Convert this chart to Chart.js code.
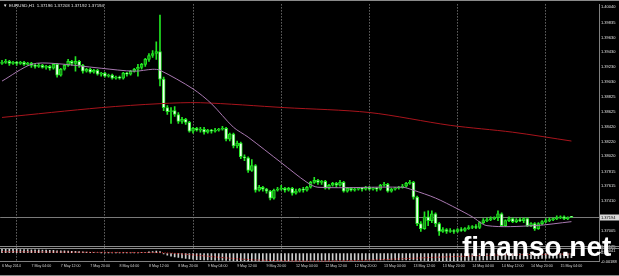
<!DOCTYPE html>
<html>
<head>
<meta charset="utf-8">
<title>EURUSD,H1</title>
<script src="https://cdn.jsdelivr.net/npm/chart.js@4.4.1/dist/chart.umd.min.js"></script>
<style>
    html, body { margin: 0; padding: 0; background: #000; }
    canvas { display: block; }
</style>
</head>
<body>
<canvas id="eurusdChart" width="619" height="276"></canvas>
<script>
const symbol = 'EURUSD,H1';
const firstTickText = '6 May 2014';
const sessionDays = ['6 May', '7 May', '8 May', '9 May', '12 May', '13 May', '14 May', '15 May'];
const firstHour = 20;
const lastHour = 7;
const emptySlots = 7;

const opens = [
    1.39280, 1.39294, 1.39307, 1.39280, 1.39294, 1.39280, 1.39294, 1.39267, 1.39280, 1.39254,
    1.39240, 1.39254, 1.39227, 1.39240, 1.39214, 1.39267, 1.39120, 1.39200, 1.39254, 1.39307,
    1.39280, 1.39307, 1.39254, 1.39174, 1.39200, 1.39160, 1.39187, 1.39134, 1.39147, 1.39107,
    1.39120, 1.39080, 1.39094, 1.39080, 1.39147, 1.39134, 1.39174, 1.39200, 1.39227, 1.39267,
    1.39334, 1.39387, 1.39414, 1.39440, 1.39067, 1.38680, 1.38627, 1.38640, 1.38587, 1.38494,
    1.38520, 1.38480, 1.38360, 1.38400, 1.38374, 1.38387, 1.38347, 1.38374, 1.38360, 1.38374,
    1.38387, 1.38400, 1.38254, 1.38320, 1.38160, 1.38200, 1.38014, 1.38000, 1.37827, 1.37894,
    1.37560, 1.37600, 1.37574, 1.37547, 1.37454, 1.37560, 1.37574, 1.37587, 1.37560, 1.37587,
    1.37520, 1.37547, 1.37574, 1.37560, 1.37600, 1.37667, 1.37694, 1.37667, 1.37680, 1.37587,
    1.37627, 1.37654, 1.37627, 1.37667, 1.37547, 1.37587, 1.37560, 1.37574, 1.37587, 1.37574,
    1.37600, 1.37574, 1.37587, 1.37574, 1.37627, 1.37640, 1.37547, 1.37574, 1.37587, 1.37600,
    1.37614, 1.37654, 1.37667, 1.37467, 1.37107, 1.37040, 1.37200, 1.37147, 1.37240, 1.37107,
    1.37000, 1.37027, 1.37000, 1.37014, 1.37000, 1.37027, 1.37014, 1.37040, 1.37054, 1.37067,
    1.37054, 1.37120, 1.37147, 1.37160, 1.37174, 1.37187, 1.37240, 1.37080, 1.37147, 1.37174,
    1.37134, 1.37160, 1.37147, 1.37174, 1.37080, 1.37107, 1.37040, 1.37107, 1.37134, 1.37147,
    1.37160, 1.37174, 1.37187, 1.37200, 1.37174, 1.37196
];
const highs = [
    1.39320, 1.39334, 1.39320, 1.39307, 1.39307, 1.39307, 1.39307, 1.39294, 1.39294, 1.39267,
    1.39280, 1.39267, 1.39254, 1.39254, 1.39280, 1.39280, 1.39214, 1.39267, 1.39334, 1.39320,
    1.39374, 1.39320, 1.39267, 1.39214, 1.39214, 1.39200, 1.39200, 1.39160, 1.39160, 1.39134,
    1.39134, 1.39107, 1.39107, 1.39160, 1.39160, 1.39187, 1.39214, 1.39267, 1.39280, 1.39347,
    1.39414, 1.39454, 1.39574, 1.39934, 1.39094, 1.38707, 1.38680, 1.38694, 1.38614, 1.38547,
    1.38534, 1.38494, 1.38414, 1.38414, 1.38414, 1.38414, 1.38387, 1.38387, 1.38400, 1.38400,
    1.38427, 1.38414, 1.38334, 1.38334, 1.38227, 1.38214, 1.38040, 1.38014, 1.37974, 1.37907,
    1.37627, 1.37614, 1.37587, 1.37560, 1.37574, 1.37600, 1.37627, 1.37600, 1.37600, 1.37600,
    1.37574, 1.37587, 1.37600, 1.37614, 1.37680, 1.37734, 1.37707, 1.37694, 1.37694, 1.37640,
    1.37667, 1.37667, 1.37694, 1.37680, 1.37600, 1.37600, 1.37587, 1.37600, 1.37600, 1.37614,
    1.37614, 1.37600, 1.37600, 1.37640, 1.37667, 1.37654, 1.37587, 1.37600, 1.37614, 1.37640,
    1.37667, 1.37694, 1.37680, 1.37480, 1.37134, 1.37267, 1.37280, 1.37280, 1.37254, 1.37120,
    1.37054, 1.37040, 1.37040, 1.37027, 1.37040, 1.37054, 1.37054, 1.37080, 1.37080, 1.37094,
    1.37134, 1.37174, 1.37187, 1.37200, 1.37200, 1.37280, 1.37254, 1.37160, 1.37200, 1.37187,
    1.37174, 1.37187, 1.37187, 1.37187, 1.37120, 1.37120, 1.37120, 1.37147, 1.37174, 1.37187,
    1.37187, 1.37214, 1.37214, 1.37214, 1.37200, 1.37203
];
const lows = [
    1.39267, 1.39280, 1.39254, 1.39267, 1.39254, 1.39267, 1.39254, 1.39254, 1.39227, 1.39214,
    1.39227, 1.39214, 1.39200, 1.39187, 1.39200, 1.39094, 1.39107, 1.39187, 1.39240, 1.39254,
    1.39174, 1.39227, 1.39147, 1.39160, 1.39147, 1.39147, 1.39120, 1.39107, 1.39094, 1.39094,
    1.39067, 1.39067, 1.39067, 1.39067, 1.39107, 1.39120, 1.39160, 1.39107, 1.39200, 1.39240,
    1.39307, 1.39360, 1.39334, 1.38974, 1.38640, 1.38587, 1.38467, 1.38560, 1.38467, 1.38467,
    1.38454, 1.38347, 1.38334, 1.38360, 1.38347, 1.38320, 1.38334, 1.38334, 1.38347, 1.38360,
    1.38374, 1.38227, 1.38227, 1.38134, 1.38134, 1.37987, 1.37960, 1.37800, 1.37814, 1.37534,
    1.37547, 1.37547, 1.37520, 1.37427, 1.37440, 1.37547, 1.37560, 1.37534, 1.37547, 1.37494,
    1.37507, 1.37534, 1.37534, 1.37547, 1.37587, 1.37654, 1.37640, 1.37640, 1.37574, 1.37574,
    1.37614, 1.37600, 1.37614, 1.37534, 1.37534, 1.37547, 1.37547, 1.37560, 1.37547, 1.37560,
    1.37560, 1.37560, 1.37547, 1.37560, 1.37614, 1.37534, 1.37534, 1.37560, 1.37574, 1.37587,
    1.37600, 1.37640, 1.37440, 1.37080, 1.37000, 1.37027, 1.37080, 1.37120, 1.37067, 1.36947,
    1.36987, 1.36974, 1.36987, 1.36974, 1.36987, 1.37000, 1.37000, 1.37027, 1.37040, 1.37040,
    1.37040, 1.37107, 1.37134, 1.37147, 1.37160, 1.37147, 1.37067, 1.37067, 1.37134, 1.37120,
    1.37120, 1.37134, 1.37120, 1.37067, 1.37067, 1.37014, 1.37027, 1.37094, 1.37120, 1.37134,
    1.37147, 1.37160, 1.37174, 1.37160, 1.37160, 1.37192
];
const closes = [
    1.39294, 1.39307, 1.39280, 1.39294, 1.39280, 1.39294, 1.39267, 1.39280, 1.39254, 1.39240,
    1.39254, 1.39227, 1.39240, 1.39214, 1.39267, 1.39120, 1.39200, 1.39254, 1.39307, 1.39280,
    1.39307, 1.39254, 1.39174, 1.39200, 1.39160, 1.39187, 1.39134, 1.39147, 1.39107, 1.39120,
    1.39080, 1.39094, 1.39080, 1.39147, 1.39134, 1.39174, 1.39200, 1.39227, 1.39267, 1.39334,
    1.39387, 1.39414, 1.39440, 1.39067, 1.38680, 1.38627, 1.38640, 1.38587, 1.38494, 1.38520,
    1.38480, 1.38360, 1.38400, 1.38374, 1.38387, 1.38347, 1.38374, 1.38360, 1.38374, 1.38387,
    1.38400, 1.38254, 1.38320, 1.38160, 1.38200, 1.38014, 1.38000, 1.37827, 1.37894, 1.37560,
    1.37600, 1.37574, 1.37547, 1.37454, 1.37560, 1.37574, 1.37587, 1.37560, 1.37587, 1.37520,
    1.37547, 1.37574, 1.37560, 1.37600, 1.37667, 1.37694, 1.37667, 1.37680, 1.37587, 1.37627,
    1.37654, 1.37627, 1.37667, 1.37547, 1.37587, 1.37560, 1.37574, 1.37587, 1.37574, 1.37600,
    1.37574, 1.37587, 1.37574, 1.37627, 1.37640, 1.37547, 1.37574, 1.37587, 1.37600, 1.37614,
    1.37654, 1.37667, 1.37467, 1.37107, 1.37040, 1.37200, 1.37147, 1.37240, 1.37107, 1.37000,
    1.37027, 1.37000, 1.37014, 1.37000, 1.37027, 1.37014, 1.37040, 1.37054, 1.37067, 1.37054,
    1.37120, 1.37147, 1.37160, 1.37174, 1.37187, 1.37240, 1.37080, 1.37147, 1.37174, 1.37134,
    1.37160, 1.37147, 1.37174, 1.37080, 1.37107, 1.37040, 1.37107, 1.37134, 1.37147, 1.37160,
    1.37174, 1.37187, 1.37200, 1.37174, 1.37187, 1.37194
];

// moving averages read at key bars
const maFastBars = [0, 8, 14, 27, 36, 41, 43, 52, 57, 63, 67, 76, 83, 86, 109, 112, 118, 124, 128, 132, 145, 155];
const maFastValues = [1.39040, 1.39267, 1.39280, 1.39214, 1.39174, 1.39200, 1.39187, 1.38934, 1.38734, 1.38414, 1.38280,
    1.37934, 1.37667, 1.37600, 1.37600, 1.37560, 1.37454, 1.37307, 1.37200, 1.37080, 1.37080, 1.37134];
const maSlowBars = [0, 27, 43, 54, 77, 100, 122, 139, 155];
const maSlowValues = [1.38547, 1.38680, 1.38734, 1.38747, 1.38680, 1.38614, 1.38440, 1.38347, 1.38227];

const macdMain = [
    0.00080, 0.00082, 0.00080, 0.00078, 0.00080, 0.00077, 0.00075, 0.00076, 0.00072, 0.00070,
    0.00068, 0.00066, 0.00064, 0.00060, 0.00058, 0.00050, 0.00048, 0.00046, 0.00045, 0.00040,
    0.00038, 0.00030, 0.00025, 0.00020, 0.00015, 0.00010, 0.00008, 0.00006, 0.00005, 0.00004,
    0.00003, 0.00002, 0.00002, 0.00003, 0.00004, 0.00005, 0.00005, 0.00006, 0.00010, 0.00018,
    0.00026, 0.00034, 0.00042, 0.00030, -0.00020, -0.00045, -0.00065, -0.00080, -0.00095, -0.00105,
    -0.00115, -0.00125, -0.00132, -0.00138, -0.00142, -0.00145, -0.00147, -0.00148, -0.00150, -0.00151,
    -0.00152, -0.00155, -0.00157, -0.00160, -0.00161, -0.00163, -0.00164, -0.00166, -0.00166, -0.00168,
    -0.00168, -0.00167, -0.00166, -0.00166, -0.00164, -0.00163, -0.00162, -0.00161, -0.00160, -0.00159,
    -0.00158, -0.00157, -0.00156, -0.00155, -0.00154, -0.00153, -0.00153, -0.00152, -0.00152, -0.00151,
    -0.00151, -0.00150, -0.00150, -0.00150, -0.00149, -0.00149, -0.00149, -0.00148, -0.00148, -0.00148,
    -0.00148, -0.00147, -0.00147, -0.00147, -0.00147, -0.00146, -0.00146, -0.00146, -0.00146, -0.00146,
    -0.00145, -0.00145, -0.00146, -0.00150, -0.00155, -0.00158, -0.00160, -0.00161, -0.00162, -0.00163,
    -0.00164, -0.00164, -0.00163, -0.00162, -0.00160, -0.00158, -0.00157, -0.00155, -0.00152, -0.00151,
    -0.00149, -0.00146, -0.00145, -0.00143, -0.00140, -0.00139, -0.00137, -0.00136, -0.00133, -0.00131,
    -0.00130, -0.00127, -0.00125, -0.00124, -0.00121, -0.00119, -0.00118, -0.00115, -0.00113, -0.00111,
    -0.00109, -0.00107, -0.00104, -0.00103, -0.00101, -0.00099
];
const signalBars = [0, 20, 41, 46, 55, 62, 70, 84, 100, 118, 136, 155];
const signalValues = [0.00030, 0.00020, 0.00010, 0.00000, -0.00060, -0.00110, -0.00150, -0.00170, -0.00150, -0.00090, -0.00040, -0.00020];

const priceTicks = [1.40040, 1.39835, 1.39630, 1.39430, 1.39230, 1.39030, 1.38825, 1.38625, 1.38420,
    1.38220, 1.38020, 1.37815, 1.37615, 1.37410, 1.37005];
const priceMin = 1.36787;
const priceMax = 1.40080;
const macdTicks = [0.00125, 0.00041, 0, -0.00188];
const macdMin = -0.00190;
const macdMax = 0.00125;

const labels = [];
sessionDays.forEach((day, k) => {
    const from = k === 0 ? firstHour : 0;
    const to = k === sessionDays.length - 1 ? lastHour : 23;
    for (let h = from; h <= to; h++) {
        labels.push(day + ' ' + String(h).padStart(2, '0') + ':00');
    }
});
for (let k = 0; k < emptySlots; k++) labels.push('');

const hourOf = label => parseInt(label.slice(-5, -3), 10);
const isBull = i => closes[i] >= opens[i];
const axisFont = { family: '"Liberation Sans", Arial, sans-serif', size: 4 };
const lime = '#22e622';

const mtOverlay = {
    id: 'mtOverlay',
    beforeDraw(chart) {
        const { ctx, width, height } = chart;
        ctx.save();
        ctx.fillStyle = '#000';
        ctx.fillRect(0, 0, width, height);
        ctx.restore();
    },
    beforeDatasetsDraw(chart) {
        const { ctx, chartArea, scales } = chart;
        const py = Math.round(scales.y.getPixelForValue(closes[closes.length - 1])) + 0.5;
        ctx.save();
        ctx.strokeStyle = '#7a7a7a';
        ctx.lineWidth = 1;
        ctx.beginPath();
        ctx.moveTo(chartArea.left, py);
        ctx.lineTo(chartArea.right, py);
        ctx.stroke();
        ctx.restore();
    },
    afterDraw(chart) {
        const { ctx, width, height, chartArea, scales } = chart;
        const last = closes.length - 1;
        ctx.save();
        // window frame and pane separator
        ctx.fillStyle = '#8a8a8a';
        ctx.fillRect(0, 0, width, 1);
        ctx.fillRect(0, height - 1, width, 1);
        const sep = Math.round(scales.y2.top);
        ctx.fillRect(0, sep - 1, width, 1);
        ctx.fillRect(0, sep + 1, width, 1);

        // current price label
        const py = Math.round(scales.y.getPixelForValue(closes[last]));
        ctx.fillStyle = '#d8d8d8';
        ctx.fillRect(chartArea.right + 1, py - 2.5, width - chartArea.right - 1, 6);
        ctx.fillStyle = '#000';
        ctx.font = '4px "Liberation Sans", Arial, sans-serif';
        ctx.textBaseline = 'middle';
        ctx.fillText(closes[last].toFixed(5), chartArea.right + 2, py + 0.5);

        // header
        ctx.fillStyle = '#e6e6e6';
        ctx.font = '4.4px "Liberation Sans", Arial, sans-serif';
        ctx.fillText('\u25BC', 3, 5.5);
        const header = symbol + '  ' + [opens[last], highs[last], lows[last], closes[last]].map(v => v.toFixed(5)).join(' ');
        ctx.fillText(header, 9, 5.5);

        // watermark
        ctx.fillStyle = '#ffffff';
        ctx.font = 'bold 28px "Liberation Sans", Arial, sans-serif';
        ctx.textBaseline = 'alphabetic';
        ctx.fillText('finanso.net', 462, 256);
        ctx.restore();
    }
};

const ctx = document.getElementById('eurusdChart').getContext('2d');
new Chart(ctx, {
    type: 'bar',
    data: {
        labels: labels,
        datasets: [
            {
                label: 'wick',
                data: lows.map((l, i) => [l, highs[i]]),
                backgroundColor: lime,
                borderWidth: 0,
                barThickness: 1,
                grouped: false,
                order: 5
            },
            {
                label: 'body',
                data: opens.map((o, i) => [o, closes[i]]),
                backgroundColor: c => (c.dataIndex === undefined || isBull(c.dataIndex)) ? '#158f15' : '#f4fff4',
                borderColor: lime,
                borderWidth: 1,
                borderSkipped: false,
                barThickness: 3,
                minBarLength: 1,
                grouped: false,
                order: 4
            },
            {
                type: 'line',
                label: 'MA slow',
                data: maSlowBars.map((b, k) => ({ x: labels[b], y: maSlowValues[k] })),
                borderColor: '#a8141c',
                borderWidth: 1,
                pointRadius: 0,
                tension: 0.3,
                order: 3
            },
            {
                type: 'line',
                label: 'MA fast',
                data: maFastBars.map((b, k) => ({ x: labels[b], y: maFastValues[k] })),
                borderColor: '#a878b0',
                borderWidth: 1,
                pointRadius: 0,
                tension: 0.3,
                order: 2
            },
            {
                label: 'MACD',
                data: macdMain,
                yAxisID: 'y2',
                backgroundColor: '#cfcfcf',
                borderWidth: 0,
                barThickness: 1,
                grouped: false,
                order: 6
            },
            {
                type: 'line',
                label: 'Signal',
                data: signalBars.map((b, k) => ({ x: labels[b], y: signalValues[k] })),
                yAxisID: 'y2',
                borderColor: '#d01818',
                borderWidth: 1,
                borderDash: [1, 1.5],
                pointRadius: 0,
                tension: 0.3,
                order: 1
            }
        ]
    },
    options: {
        responsive: false,
        animation: false,
        events: [],
        layout: { padding: { top: 2, left: 0, right: 0, bottom: 5.7 } },
        plugins: {
            legend: { display: false },
            tooltip: { enabled: false }
        },
        scales: {
            x: {
                type: 'category',
                offset: true,
                grid: {
                    offset: false,
                    drawTicks: false,
                    lineWidth: 1,
                    color: c => (labels[c.index] && labels[c.index].endsWith(' 00:00')) ? '#9a9a9a' : 'rgba(0,0,0,0)'
                },
                border: { display: true, color: '#808080', dash: [1, 2] },
                ticks: {
                    autoSkip: false,
                    maxRotation: 0,
                    minRotation: 0,
                    align: 'start',
                    padding: 2,
                    color: '#d4d4d4',
                    font: { family: axisFont.family, size: 3.6 },
                    callback: (value, index) => {
                        if (index === 0) return firstTickText;
                        const l = labels[index];
                        return (l && hourOf(l) % 8 === 4) ? l : '';
                    }
                }
            },
            y: {
                type: 'linear',
                position: 'right',
                stack: 'panes',
                stackWeight: 247,
                min: priceMin,
                max: priceMax,
                afterBuildTicks: s => { s.ticks = priceTicks.map(v => ({ value: v })); },
                afterFit: s => { s.width = 20; },
                grid: { drawOnChartArea: false, drawTicks: false },
                border: { display: true, color: '#808080' },
                ticks: {
                    autoSkip: false,
                    padding: 2,
                    color: '#e0e0e0',
                    font: axisFont,
                    callback: v => Number(v).toFixed(5)
                }
            },
            y2: {
                type: 'linear',
                position: 'right',
                stack: 'panes',
                stackWeight: 15,
                min: macdMin,
                max: macdMax,
                afterBuildTicks: s => { s.ticks = macdTicks.map(v => ({ value: v })); },
                afterFit: s => { s.width = 20; },
                grid: { drawOnChartArea: false, drawTicks: false },
                border: { display: true, color: '#808080' },
                ticks: {
                    autoSkip: false,
                    padding: 2,
                    color: '#e0e0e0',
                    font: axisFont,
                    callback: v => v === 0 ? '0.00' : Number(v).toFixed(5)
                }
            }
        }
    },
    plugins: [mtOverlay]
});
</script>
</body>
</html>
